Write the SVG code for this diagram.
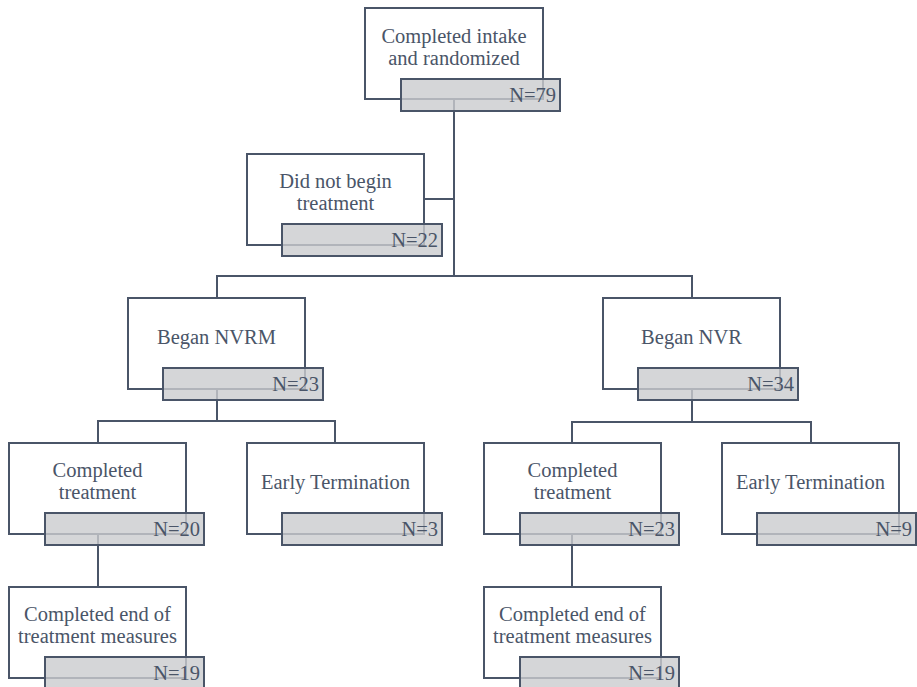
<svg xmlns="http://www.w3.org/2000/svg" width="917" height="687" viewBox="0 0 917 687">
<style>
.box{fill:#ffffff;stroke:#4a5568;stroke-width:2}
.tag{fill:#cbccce;fill-opacity:0.8;stroke:#4a5568;stroke-width:2}
.t{font-size:20.5px;fill:#4a5568;text-anchor:middle}
.n{font-size:20.5px;fill:#4a5568;text-anchor:end}
.c{fill:none;stroke:#4a5568;stroke-width:2}
</style>
<rect width="917" height="687" fill="#ffffff"/>
<g id="connectors">
<path class="c" d="M454 99 V276"/>
<path class="c" d="M424 199 H454"/>
<path class="c" d="M217 298 V276 H692 V298"/>
<path class="c" d="M217 389 V421"/>
<path class="c" d="M98 443 V421 H335 V443"/>
<path class="c" d="M692 389 V422"/>
<path class="c" d="M572 443 V422 H811 V443"/>
<path class="c" d="M98 534 V587"/>
<path class="c" d="M572 534 V587"/>
</g>
<g font-family="Liberation Serif, DejaVu Serif, serif">
<g id="n1">
<rect class="box" x="365" y="8" width="178" height="91"/>
<text class="t" x="454" y="43">Completed intake</text>
<text class="t" x="454" y="65">and randomized</text>
<rect class="tag" x="401" y="79" width="159" height="32"/>
<text class="n" x="556" y="102">N=79</text>
</g>
<g id="n2">
<rect class="box" x="247" y="154" width="177" height="91"/>
<text class="t" x="335.5" y="188">Did not begin</text>
<text class="t" x="335.5" y="210">treatment</text>
<rect class="tag" x="282" y="224" width="160" height="32"/>
<text class="n" x="438" y="247">N=22</text>
</g>
<g id="n3">
<rect class="box" x="128" y="298" width="177" height="91"/>
<text class="t" x="216.5" y="344">Began NVRM</text>
<rect class="tag" x="163" y="368" width="160" height="32"/>
<text class="n" x="319" y="391">N=23</text>
</g>
<g id="n4">
<rect class="box" x="603" y="298" width="177" height="91"/>
<text class="t" x="691.5" y="344">Began NVR</text>
<rect class="tag" x="638" y="368" width="160" height="32"/>
<text class="n" x="794" y="391">N=34</text>
</g>
<g id="n5">
<rect class="box" x="9" y="443" width="177" height="91"/>
<text class="t" x="97.5" y="477">Completed</text>
<text class="t" x="97.5" y="499">treatment</text>
<rect class="tag" x="45" y="513" width="159" height="32"/>
<text class="n" x="200" y="536">N=20</text>
</g>
<g id="n6">
<rect class="box" x="247" y="443" width="177" height="91"/>
<text class="t" x="335.5" y="489">Early Termination</text>
<rect class="tag" x="282" y="513" width="160" height="32"/>
<text class="n" x="438" y="536">N=3</text>
</g>
<g id="n7">
<rect class="box" x="484" y="443" width="177" height="91"/>
<text class="t" x="572.5" y="477">Completed</text>
<text class="t" x="572.5" y="499">treatment</text>
<rect class="tag" x="520" y="513" width="159" height="32"/>
<text class="n" x="675" y="536">N=23</text>
</g>
<g id="n8">
<rect class="box" x="722" y="443" width="177" height="91"/>
<text class="t" x="810.5" y="489">Early Termination</text>
<rect class="tag" x="757" y="513" width="159" height="32"/>
<text class="n" x="912" y="536">N=9</text>
</g>
<g id="n9">
<rect class="box" x="9" y="587" width="177" height="91"/>
<text class="t" x="97.5" y="621">Completed end of</text>
<text class="t" x="97.5" y="643">treatment measures</text>
<rect class="tag" x="45" y="657" width="159" height="32"/>
<text class="n" x="200" y="680">N=19</text>
</g>
<g id="n10">
<rect class="box" x="484" y="587" width="177" height="91"/>
<text class="t" x="572.5" y="621">Completed end of</text>
<text class="t" x="572.5" y="643">treatment measures</text>
<rect class="tag" x="520" y="657" width="159" height="32"/>
<text class="n" x="675" y="680">N=19</text>
</g>
</g>
</svg>
